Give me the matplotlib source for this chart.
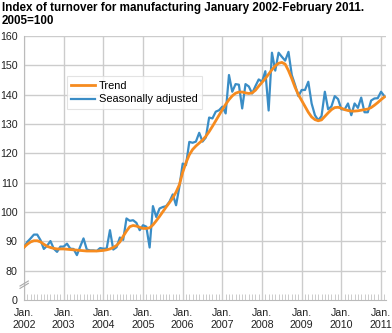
import numpy as np
import matplotlib
matplotlib.use("Agg")
import matplotlib.pyplot as plt

plt.rcParams['font.family'] = ['Liberation Sans', 'DejaVu Sans']

# monthly values, Jan 2002 - Feb 2011
seasonally_adjusted = [
    87.9, 89.8, 91.0, 92.3, 92.3, 90.4, 87.4, 88.5, 90.1, 87.5, 86.4, 88.2,   # 2002
    88.2, 89.2, 87.5, 87.4, 85.3, 88.2, 91.0, 87.2, 86.9, 86.9, 86.7, 87.7,   # 2003
    87.5, 87.5, 93.8, 87.2, 88.0, 91.3, 90.5, 97.8, 97.0, 97.2, 96.3, 93.8,   # 2004
    95.5, 95.0, 87.9, 102.0, 98.3, 101.2, 101.7, 102.0, 103.5, 106.0, 102.3, 108.6,  # 2005
    116.5, 116.0, 123.9, 123.6, 124.0, 127.0, 124.0, 125.4, 132.2, 131.9, 134.2, 134.7,  # 2006
    135.9, 133.6, 146.7, 141.0, 143.6, 143.4, 135.3, 143.6, 142.8, 140.4, 142.9, 145.2,  # 2007
    144.4, 148.0, 134.6, 154.3, 148.2, 154.3, 152.9, 151.6, 154.6, 146.7, 143.3, 139.5,  # 2008
    141.6, 141.6, 144.4, 137.0, 133.0, 131.3, 132.7, 141.0, 135.0, 136.0, 139.5, 138.5,  # 2009
    135.0, 135.0, 137.0, 133.0, 137.0, 135.5, 139.0, 134.0, 134.0, 138.0, 138.7, 138.8,  # 2010
    141.0, 139.5,  # 2011
]

trend = [
    88.0, 89.0, 89.8, 90.2, 90.2, 89.8, 89.0, 88.3, 87.9, 87.6, 87.4, 87.4,
    87.4, 87.3, 87.2, 87.1, 87.0, 86.9, 86.8, 86.7, 86.7, 86.7, 86.7, 86.8,
    86.9, 87.1, 87.4, 87.9, 88.6, 89.8, 91.7, 93.5, 95.0, 95.4, 95.2, 94.8,
    94.4, 94.4, 94.6, 95.6, 97.0, 98.5, 100.1, 101.7, 103.2, 104.8, 106.8, 109.3,
    113.5, 116.8, 119.5, 121.3, 122.5, 123.5, 124.5, 125.8, 127.4, 129.2, 131.1, 133.0,
    134.9, 136.7, 138.3, 139.6, 140.5, 140.9, 140.9, 140.6, 140.4, 140.6, 141.5, 142.9,
    144.2, 145.5, 147.0, 148.5, 149.8, 150.7, 151.0, 150.4, 148.2, 145.5, 142.5, 140.0,
    138.0, 136.0, 134.0, 132.4, 131.5, 131.1, 131.4, 132.6, 133.8, 134.9, 135.6, 135.7,
    135.4, 134.9, 134.6, 134.4, 134.4, 134.5, 134.7, 134.9, 135.1, 135.6, 136.4, 137.3,
    138.3, 139.2,
]

years = list(range(2002, 2012))
month_idx = np.arange(len(trend))

fig = plt.figure(figsize=(3.92, 3.33), dpi=100)
ax = fig.add_axes([24 / 392, 33 / 333, 362 / 392, 264 / 333])

grid_c = '#cccccc'
ax.set_xlim(0, 109.5)
ax.set_ylim(70, 160)
ax.set_yticks([70, 80, 90, 100, 110, 120, 130, 140, 150, 160])
ax.set_yticklabels(['0', '80', '90', '100', '110', '120', '130', '140', '150', '160'])
ax.set_xticks([12 * k for k in range(len(years))])
ax.set_xticklabels(['Jan.\n%d' % y for y in years], linespacing=1.15)
ax.set_xticks(month_idx, minor=True)

ax.tick_params(axis='both', which='major', length=0, labelsize=7.7, colors='#222222')
ax.tick_params(axis='y', pad=4.5)
ax.tick_params(axis='x', pad=6)
ax.tick_params(axis='x', which='minor', direction='in', length=4.5, width=0.7, color=grid_c)

# grid lines (no line at the broken-axis 0)
for yv in range(80, 161, 10):
    ax.axhline(yv, color=grid_c, lw=1.0, zorder=0)
for k in range(len(years)):
    ax.axvline(12 * k, color=grid_c, lw=1.0, zorder=0)

for s in ['top', 'right']:
    ax.spines[s].set_visible(False)
ax.spines['left'].set_color('#bbbbbb')
ax.spines['bottom'].set_color('#bbbbbb')

ax.plot(month_idx, seasonally_adjusted, color='#3a8dc6', lw=1.6, label='Seasonally adjusted', zorder=3)
ax.plot(month_idx, trend, color='#f68b1f', lw=2.0, label='Trend', zorder=4)

# axis break marker
for dy in (0.0, 0.009):
    ax.plot([-0.011, 0.012], [0.044 + dy, 0.063 + dy], transform=ax.transAxes,
            color='#aaaaaa', lw=0.8, clip_on=False, zorder=5)

handles, labels = ax.get_legend_handles_labels()
leg = ax.legend(handles[::-1], labels[::-1], loc='upper left', bbox_to_anchor=(0.118, 0.848),
                fontsize=7.9, frameon=True, fancybox=False, handlelength=2.2,
                handletextpad=0.3, borderpad=0.4, labelspacing=0.35, borderaxespad=0)
leg.get_frame().set_edgecolor('#dddddd')
leg.get_frame().set_linewidth(0.8)

fig.text(0.005, 0.993, 'Index of turnover for manufacturing January 2002-February 2011.\n2005=100',
         ha='left', va='top', fontsize=8.4, fontweight='bold', linespacing=1.05)

fig.savefig('out.png', dpi=100)
